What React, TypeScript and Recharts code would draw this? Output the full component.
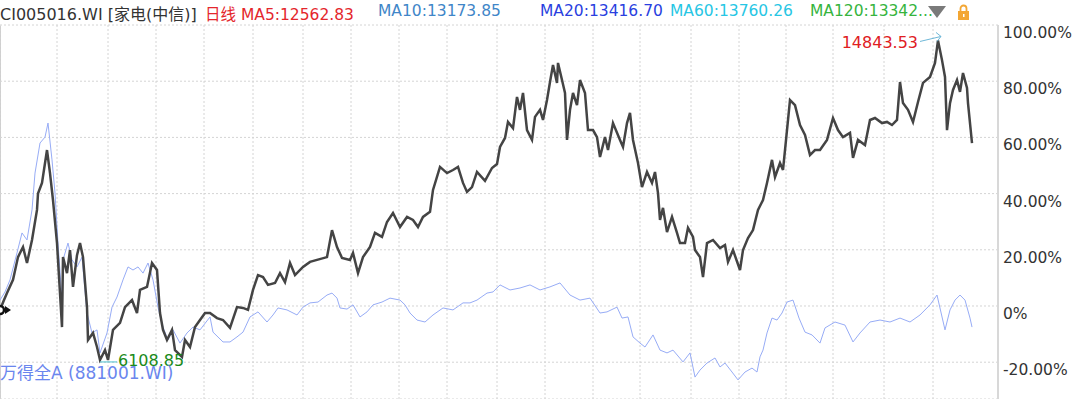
import React from "react";
import { LineChart, Line, XAxis, YAxis, CartesianGrid, ReferenceDot } from "recharts";

// session position (0..998 on the time axis) and % change vs. start
const stockT = [
  0, 4, 7, 13, 18, 23, 27, 32, 37, 38, 42, 47, 50, 53, 57, 60, 62, 63, 67, 70, 73, 77, 80, 83, 87, 88, 93, 97,
  100, 105, 108, 113, 120, 125, 132, 137, 140, 147, 152, 157, 160, 163, 167, 172, 175, 182, 185, 190, 195, 200,
  205, 210, 217, 223, 230, 237, 243, 248, 253, 258, 263, 268, 275, 280, 285, 290, 295, 303, 310, 317, 327, 332,
  337, 342, 350, 353, 358, 363, 370, 375, 382, 387, 393, 400, 407, 413, 418, 423, 430, 433, 440, 447, 453, 458,
  463, 467, 472, 477, 485, 492, 497, 500, 505, 508, 513, 517, 520, 523, 527, 532, 535, 540, 543, 547, 550, 553,
  557, 558, 562, 565, 567, 570, 573, 577, 580, 585, 588, 593, 597, 600, 605, 608, 613, 620, 623, 627, 630, 633,
  638, 642, 647, 652, 655, 658, 660, 663, 667, 672, 677, 680, 685, 688, 693, 695, 700, 703, 707, 713, 720, 725,
  728, 733, 740, 743, 748, 753, 758, 763, 767, 772, 775, 780, 783, 785, 790, 795, 800, 805, 810, 815, 820, 827,
  833, 838, 843, 850, 853, 858, 865, 870, 875, 882, 887, 892, 897, 900, 903, 908, 913, 918, 923, 930, 935, 938,
  942, 945, 947, 950, 953, 957, 960, 963, 967, 968, 972,
];
const stockPct = [
  -1.4, 2.1, 4.6, 9.3, 17.4, 21.0, 15.3, 23.5, 34.2, 40.0, 43.8, 55.5, 47.3, 37.7, 22.4, 4.6, -7.5, 17.4, 11.7,
  19.9, 6.8, 18.1, 22.4, 17.4, -0.4, -12.1, -9.6, -14.6, -19.2, -15.7, -19.2, -8.5, -6.0, -0.4, 2.1, -2.5, 5.7,
  6.8, 15.3, 12.8, -2.5, -8.5, -12.1, -8.5, -15.7, -18.1, -12.1, -14.6, -7.5, -5.0, -2.5, -2.5, -4.3, -5.0, -7.8,
  -0.4, -0.7, -1.4, 5.7, 11.0, 10.3, 7.5, 8.2, 11.7, 8.5, 15.3, 11.0, 13.9, 15.7, 16.4, 17.4, 27.0, 21.0, 17.1,
  16.4, 18.9, 11.7, 17.4, 21.0, 26.0, 24.6, 29.9, 33.1, 28.1, 31.7, 30.6, 28.1, 31.7, 33.5, 41.3, 49.5, 47.3,
  48.4, 49.5, 43.8, 40.6, 42.3, 47.7, 44.5, 49.1, 50.5, 56.6, 59.8, 65.5, 63.3, 74.4, 69.8, 75.8, 62.6, 59.1,
  67.3, 69.8, 66.2, 73.3, 79.7, 85.8, 79.4, 86.5, 80.4, 75.8, 59.1, 69.8, 75.8, 71.5, 80.4, 75.8, 62.6, 62.6,
  60.1, 53.0, 60.1, 55.5, 65.1, 59.1, 56.6, 65.1, 68.7, 59.1, 50.9, 42.3, 47.7, 43.8, 47.7, 40.2, 30.6, 34.9,
  26.3, 31.7, 26.0, 22.4, 22.4, 27.8, 24.6, 19.9, 17.4, 10.3, 22.4, 23.5, 20.6, 21.7, 15.7, 19.9, 12.8, 19.9,
  24.2, 27.0, 34.2, 37.7, 43.8, 52.0, 45.9, 50.9, 48.4, 55.5, 73.3, 71.5, 64.4, 60.9, 53.7, 55.5, 55.5, 59.1,
  66.9, 62.6, 60.1, 61.6, 52.7, 59.1, 57.3, 66.2, 66.9, 65.1, 65.5, 64.4, 66.2, 79.7, 72.2, 69.8, 65.5, 72.6,
  79.4, 81.5, 86.5, 94.5, 87.5, 81.5, 62.6, 72.2, 76.9, 80.4, 76.2, 82.9, 77.6, 72.2, 58.0,
];

const indexT = [
  0, 5, 10, 17, 22, 27, 32, 35, 40, 45, 48, 52, 55, 58, 62, 63, 68, 72, 77, 82, 87, 92, 97, 100, 107, 112, 117,
  123, 128, 133, 138, 143, 148, 153, 158, 163, 168, 173, 180, 187, 193, 200, 210, 213, 223, 230, 237, 243, 250,
  258, 267, 273, 278, 287, 297, 303, 310, 318, 327, 332, 337, 340, 347, 353, 360, 367, 373, 382, 390, 400, 405,
  410, 417, 425, 433, 443, 453, 463, 470, 477, 487, 493, 500, 510, 520, 530, 540, 550, 560, 570, 580, 590, 600,
  607, 617, 622, 628, 633, 640, 645, 653, 660, 667, 673, 683, 690, 695, 700, 707, 715, 720, 725, 732, 738, 745,
  752, 757, 760, 763, 767, 772, 777, 782, 787, 793, 799, 805, 812, 820, 825, 835, 845, 853, 860, 870, 880, 890,
  900, 910, 920, 930, 937, 945, 950, 955, 960, 965, 970, 972,
];
const indexPct = [
  2.1, 5.0, 9.3, 18.9, 26.0, 23.5, 34.2, 47.3, 58.0, 60.1, 65.1, 52.0, 40.2, 22.4, 2.1, 16.4, 22.4, 16.4, 13.9,
  17.4, -2.5, -9.6, -8.5, -16.7, -9.6, -0.4, 3.2, 9.3, 13.9, 12.8, 13.9, 11.7, 15.3, 9.3, -0.4, -7.5, -12.1,
  -8.5, -13.2, -9.6, -7.5, -8.5, -3.9, -9.3, -12.8, -12.8, -11.0, -9.3, -3.9, -2.1, -5.7, -3.2, -0.7, -1.4,
  -3.2, -0.4, 1.1, 1.4, 3.9, 4.6, 2.8, -0.7, -1.1, 0.4, -3.9, -2.1, 0.4, 1.4, 2.8, 2.1, 0.4, -2.5, -5.0, -5.7,
  -3.2, -0.7, -1.4, 1.1, 1.1, 2.1, 4.6, 5.0, 7.5, 5.7, 6.4, 7.5, 5.7, 6.8, 8.2, 3.9, 2.1, 2.8, -2.5, -2.1,
  -0.4, -4.3, -3.9, -11.0, -13.2, -14.6, -10.3, -15.7, -16.7, -15.7, -19.9, -16.7, -25.3, -22.8, -20.3, -18.5,
  -21.7, -20.3, -23.5, -26.3, -23.5, -22.1, -23.5, -18.1, -15.7, -9.6, -4.3, -5.0, -2.5, 1.4, 2.1, -4.3, -9.3,
  -10.3, -13.2, -7.8, -5.7, -6.8, -12.8, -9.6, -5.7, -5.0, -5.7, -4.3, -5.7, -3.2, 0.4, 3.9, -8.5, -1.4, 2.1,
  3.9, 2.1, -4.3, -7.5,
];

// month boundaries on the time axis
const monthTicks = [57, 108, 156, 204, 253, 303, 351, 399, 447, 497, 545, 593, 640, 691, 739, 786, 833, 884, 933];
const pctTicks = [-20, 0, 20, 40, 60, 80, 100];

const maLabels = [
  { text: "日线 MA5:12562.83", color: "#e4262c", left: 205 },
  { text: "MA10:13173.85", color: "#3f86c8", left: 378 },
  { text: "MA20:13416.70", color: "#2a3fe0", left: 540 },
  { text: "MA60:13760.26", color: "#27c6e4", left: 670 },
  { text: "MA120:13342...", color: "#36b43e", left: 810 },
];

const maxLabel = "14843.53";
const minLabel = "6108.85";

const FONT = '"DejaVu Sans", "Noto Sans CJK SC", sans-serif';

const stockData = stockT.map((t, i) => ({ t, v: stockPct[i] }));
const indexData = indexT.map((t, i) => ({ t, v: indexPct[i] }));

const maxIdx = stockPct.indexOf(Math.max(...stockPct));
const minIdx = stockPct.indexOf(Math.min(...stockPct));

const PctTick = (props: any) => {
  const { x, y, payload } = props;
  const v = payload.value;
  const label = v === 0 ? "0%" : `${v.toFixed(2)}%`;
  return (
    <text x={x - 3} y={y + 13} fill="#333" fontSize={15.5} fontFamily={FONT} textAnchor="start">
      {label}
    </text>
  );
};

const MaxMark = (props: any) => {
  const { cx, cy } = props;
  return (
    <g>
      <text x={cx - 20} y={cy + 8} fill="#e0201f" fontSize={16} fontFamily={FONT} textAnchor="end">
        {maxLabel}
      </text>
      <line x1={cx - 18} y1={cy + 1} x2={cx + 3} y2={cy - 4} stroke="#6fb8d8" strokeWidth={1} />
      <polyline points={`${cx - 2},${cy - 8} ${cx + 3},${cy - 4} ${cx - 1},${cy + 1}`} fill="none" stroke="#6fb8d8" strokeWidth={1} />
    </g>
  );
};

const MinMark = (props: any) => {
  const { cx, cy } = props;
  return (
    <g>
      <line x1={cx} y1={cy + 2} x2={cx + 17} y2={cy + 2} stroke="#4cc0d0" strokeWidth={1} />
      <text x={cx + 18} y={cy + 6} fill="#1a8a1a" fontSize={16} fontFamily={FONT}>
        {minLabel}
      </text>
    </g>
  );
};

const StartMark = (props: any) => {
  const { cx, cy } = props;
  return (
    <g>
      <circle cx={cx} cy={cy} r={4} fill="#fff" stroke="#111" strokeWidth={2.5} />
      <polygon points={`${cx + 5},${cy - 4} ${cx + 11},${cy} ${cx + 5},${cy + 4}`} fill="#111" />
    </g>
  );
};

export default function App() {
  return (
    <div style={{ position: "fixed", left: 0, top: 0, width: 1080, height: 399, background: "#fff", fontFamily: FONT }}>
      <div style={{ position: "absolute", left: 0, top: 26, width: 1, height: 373, background: "#cfcfcf" }} />
      <LineChart width={1080} height={399} margin={{ top: 25, right: 0, bottom: 0, left: 0 }}>
        <CartesianGrid stroke="#d4d4d4" strokeDasharray="2 2" />
        <XAxis type="number" dataKey="t" domain={[0, 998]} ticks={monthTicks} hide />
        <YAxis
          orientation="right"
          type="number"
          domain={[-33.1, 100]}
          ticks={pctTicks}
          width={82}
          allowDataOverflow
          axisLine={{ stroke: "#d8d8d8", strokeWidth: 2 }}
          tickLine={false}
          tick={<PctTick />}
        />
        <Line
          data={indexData}
          dataKey="v"
          stroke="#97acf6"
          strokeWidth={1}
          dot={false}
          isAnimationActive={false}
        />
        <Line
          data={stockData}
          dataKey="v"
          stroke="#444"
          strokeWidth={2.5}
          dot={false}
          isAnimationActive={false}
        />
        <ReferenceDot x={stockT[maxIdx]} y={stockPct[maxIdx]} r={0} shape={<MaxMark />} />
        <ReferenceDot x={stockT[minIdx]} y={stockPct[minIdx]} r={0} shape={<MinMark />} />
        <ReferenceDot x={stockT[0]} y={stockPct[0]} r={0} shape={<StartMark />} />
      </LineChart>
      <div style={{ position: "absolute", left: 0, top: 1, fontSize: 16, color: "#333", whiteSpace: "nowrap" }}>
        CI005016.WI [家电(中信)]
      </div>
      {maLabels.map((m) => (
        <div key={m.text} style={{ position: "absolute", left: m.left, top: 2, fontSize: 15.5, color: m.color, whiteSpace: "nowrap" }}>
          {m.text}
        </div>
      ))}
      <svg style={{ position: "absolute", left: 926, top: 4 }} width={50} height={18}>
        <polygon points="2,2 20,2 11,14" fill="#7a7a7a" />
        <rect x={32} y={7} width={11} height={9} fill="#f3a633" />
        <path d="M34.5,7 V4.5 a3,3 0 0 1 6,0 V7" fill="none" stroke="#f3a633" strokeWidth={1.8} />
        <rect x={37} y={10} width={1.5} height={3} fill="#fff" />
      </svg>
      <div style={{ position: "absolute", left: 0, top: 359, fontSize: 17, color: "#6a86ee", whiteSpace: "nowrap" }}>
        万得全A (881001.WI)
      </div>
    </div>
  );
}
